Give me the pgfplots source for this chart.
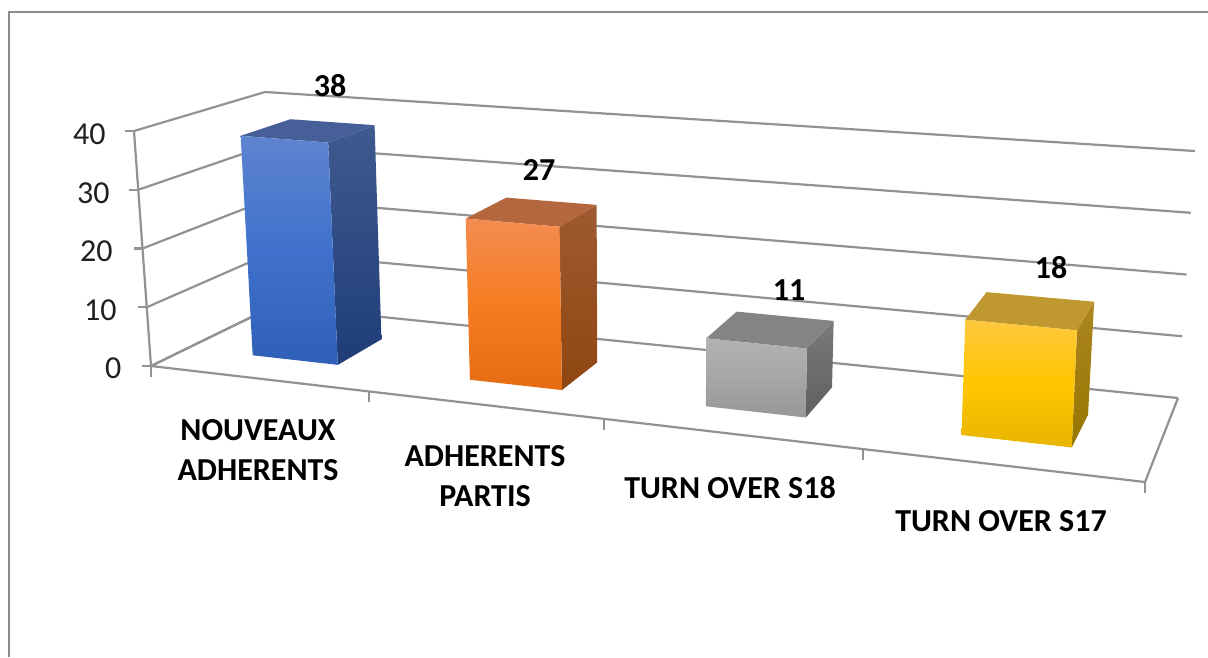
\documentclass[border=0pt]{standalone}
\usepackage{pgfplots}
\pgfplotsset{compat=1.18}
\usepackage{fontspec}
\setmainfont{Carlito}
% colours: f = front (top, middle, bottom), s = side (top, bottom), t = lid
\definecolor{gridc}{HTML}{929292}
\definecolor{frame}{HTML}{8C8C8C}
\definecolor{bft}{HTML}{5F84D0}\definecolor{bfm}{HTML}{3F71CC}\definecolor{bfb}{HTML}{2F60B8}
\definecolor{bst}{HTML}{3F5A8F}\definecolor{bsb}{HTML}{1E3D78}\definecolor{btp}{HTML}{465F99}
\definecolor{oft}{HTML}{F48C50}\definecolor{ofm}{HTML}{F57C22}\definecolor{ofb}{HTML}{E66C13}
\definecolor{ost}{HTML}{9E5A30}\definecolor{osb}{HTML}{8F4610}\definecolor{otp}{HTML}{B4673D}
\definecolor{gft}{HTML}{B2B2B2}\definecolor{gfm}{HTML}{A6A6A6}\definecolor{gfb}{HTML}{979797}
\definecolor{gst}{HTML}{7A7A7A}\definecolor{gsb}{HTML}{5F5F5F}\definecolor{gtp}{HTML}{848484}
\definecolor{yft}{HTML}{FFC83F}\definecolor{yfm}{HTML}{FFC600}\definecolor{yfb}{HTML}{E8B500}
\definecolor{yst}{HTML}{AC8520}\definecolor{ysb}{HTML}{987600}\definecolor{ytp}{HTML}{BF9830}
\pgfplotsset{
  table/proj/.style={row sep=\\,
    x expr={PX(\thisrow{cu},\thisrow{cv},\thisrow{val}/40)},
    y expr={PY(\thisrow{cu},\thisrow{cv},\thisrow{val}/40)}},
  gl/.style={draw=gridc,line width=2.2pt,no markers,forget plot},
}
% one bar: u-left, u-right, value, colour prefix
\newcommand\drawbar[4]{%
  \addplot[draw=none,no markers,forget plot,top color=#4st,bottom color=#4sb] table[proj]
    {cu cv val\\ #2 .3 #3\\ #2 .7 #3\\ #2 .7 0\\ #2 .3 0\\};
  \addplot[draw=none,no markers,forget plot,fill=#4tp] table[proj]
    {cu cv val\\ #1 .3 #3\\ #1 .7 #3\\ #2 .7 #3\\ #2 .3 #3\\};
  \addplot[draw=none,no markers,forget plot,top color=#4ft,bottom color=#4fb,middle color=#4fm] table[proj]
    {cu cv val\\ #1 .3 #3\\ #2 .3 #3\\ #2 .3 0\\ #1 .3 0\\};
}
\newcommand\wall[1]{%
  \addplot[gl] table[proj]{cu cv val\\ 0 0 #1\\ 0 1 #1\\ 1 1 #1\\};
}
\newcommand\ytk[1]{%
  \addplot[gl] table[row sep=\\,x expr={PX(0,0,\thisrow{val}/40)-\thisrow{d}},y expr={PY(0,0,\thisrow{val}/40)}]
    {val d\\ #1 0\\ #1 9\\};
}
\newcommand\xtk[1]{%
  \addplot[gl] table[row sep=\\,x expr={PX(\thisrow{cu},0,0)},y expr={PY(\thisrow{cu},0,0)+\thisrow{d}}]
    {cu d\\ #1 0\\ #1 11\\};
}
\begin{document}
\begin{tikzpicture}
\begin{axis}[
  scale only axis,width=1208pt,height=657pt,
  xmin=0,xmax=1208,ymin=0,ymax=657,y dir=reverse,
  hide axis,clip=true,
  declare function={
    bi(\a,\b,\c,\d,\U,\V)=(1-\V)*((1-\U)*\a+\U*\d)+\V*((1-\U)*\b+\U*\c);
    PX(\U,\V,\W)=(1-\W)*bi(151,274,1178,1145,\U,\V)+\W*bi(134,265,1195,1158,\U,\V);
    PY(\U,\V,\W)=(1-\W)*bi(366,306,398,482,\U,\V)+\W*bi(131,92,151,212,\U,\V);
  },
]
\path (axis cs:0,0) rectangle (axis cs:1208,657);
% outer frame
\addplot[draw=frame,line width=2pt,no markers,forget plot] coordinates {(9,657)(9,12)(1208,12)};
% walls and floor
\wall{40}\wall{30}\wall{20}\wall{10}\wall{0}
\addplot[gl] table[proj]{cu cv val\\ 0 1 0\\ 0 0 0\\ 1 0 0\\ 1 1 0\\};
\addplot[gl] table[proj]{cu cv val\\ 0 0 40\\ 0 0 0\\};
% ticks
\ytk{0}\ytk{10}\ytk{20}\ytk{30}\ytk{40}
\xtk{0}\xtk{.219}\xtk{.456}\xtk{.716}\xtk{1}
% bars
\drawbar{.067}{.155}{38}{b}
\drawbar{.2916}{.3868}{27}{o}
\drawbar{.5357}{.639}{11}{g}
\drawbar{.80}{.914}{18}{y}
% y tick labels
\node[anchor=east,font=\fontsize{32}{36}\selectfont,text=black!88] at (axis cs:125,368) {0};
\node[anchor=east,font=\fontsize{32}{36}\selectfont,text=black!88] at (axis cs:120,310) {10};
\node[anchor=east,font=\fontsize{32}{36}\selectfont,text=black!88] at (axis cs:116,251) {20};
\node[anchor=east,font=\fontsize{32}{36}\selectfont,text=black!88] at (axis cs:113,193) {30};
\node[anchor=east,font=\fontsize{32}{36}\selectfont,text=black!88] at (axis cs:109,134) {40};
% value labels
\node[font=\bfseries\fontsize{32}{36}\selectfont] at (axis cs:330,86) {38};
\node[font=\bfseries\fontsize{32}{36}\selectfont] at (axis cs:539,170) {27};
\node[font=\bfseries\fontsize{32}{36}\selectfont] at (axis cs:789,290) {11};
\node[font=\bfseries\fontsize{32}{36}\selectfont] at (axis cs:1051,268) {18};
% category labels
\node[font=\bfseries\fontsize{32}{40}\selectfont,align=center] at (axis cs:258,450) {NOUVEAUX\\ADHERENTS};
\node[font=\bfseries\fontsize{32}{40}\selectfont,align=center] at (axis cs:485,476) {ADHERENTS\\PARTIS};
\node[font=\bfseries\fontsize{32}{40}\selectfont] at (axis cs:730,488) {TURN OVER S18};
\node[font=\bfseries\fontsize{32}{40}\selectfont] at (axis cs:1001,521) {TURN OVER S17};
\end{axis}
\end{tikzpicture}
\end{document}
